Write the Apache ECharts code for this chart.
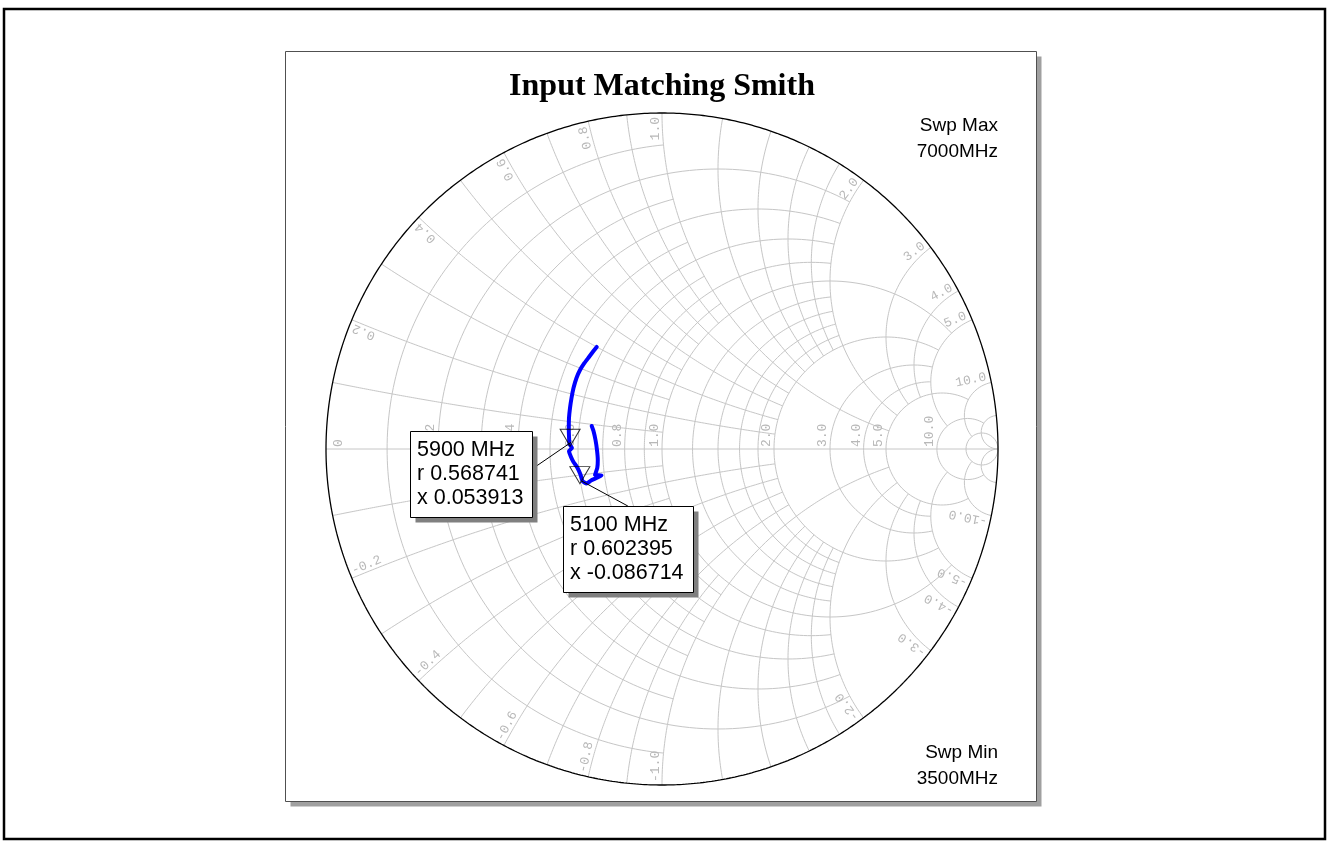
<!DOCTYPE html>
<html>
<head>
<meta charset="utf-8">
<title>Input Matching Smith</title>
<script src="https://cdn.jsdelivr.net/npm/echarts@6/dist/echarts.min.js"></script>
<style>
  html, body { margin: 0; padding: 0; background: #ffffff; }
  #chart { width: 1330px; height: 847px; }
</style>
</head>
<body>
<div id="chart"></div>
<script>
// S11 trace as reflection coefficient (real / imaginary), swept 3500 -> 7000 MHz
const gammaRe = [-0.2092,-0.2039,-0.1979,-0.1935,-0.1911,-0.1926,-0.1994,-0.1801,-0.2113,-0.2247,
                 -0.2366,-0.2426,-0.2530,-0.2634,-0.2708,-0.2768,-0.2679,-0.2753,-0.2768,-0.2774,
                 -0.2768,-0.2738,-0.2693,-0.2634,-0.2545,-0.2440,-0.2307,-0.2173,-0.2039,-0.1943];
const gammaIm = [ 0.0685, 0.0536, 0.0268,-0.0030,-0.0327,-0.0565,-0.0774,-0.0789,-0.0938,-0.1027,
                 -0.0952,-0.0759,-0.0536,-0.0387,-0.0238,-0.0060, 0.0030, 0.0149, 0.0387, 0.0625,
                  0.0923, 0.1220, 0.1518, 0.1815, 0.2113, 0.2351, 0.2560, 0.2738, 0.2917, 0.3036];

// Marker readouts (normalised impedance)
const markerLabels = ['5900 MHz', '5100 MHz'];
const markerR = [0.568741, 0.602395];
const markerX = [0.053913, -0.086714];

// Grid annotation values
const resistanceLabels = [0, 0.2, 0.4, 0.6, 0.8, 1.0, 2.0, 3.0, 4.0, 5.0, 10.0];
const reactanceLabels = [0.2, 0.4, 0.6, 0.8, 1.0, 2.0, 3.0, 4.0, 5.0, 10.0];

// Sweep range captions
const sweepMax = ['Swp Max', '7000MHz'];
const sweepMin = ['Swp Min', '3500MHz'];
const chartTitle = 'Input Matching Smith';

// Grid structure: [value, limit of the crossing family]
const rCircles = [[0.1,1],[0.2,2],[0.3,1],[0.4,2],[0.5,1],[0.6,2],[0.7,1],[0.8,2],[0.9,1],[1.0,5],
                  [1.2,2],[1.4,2],[1.6,2],[1.8,2],[2.0,5],[3.0,5],[4.0,5],[5.0,10],[10,20],[20,Infinity]];
const xArcs = [[0.1,1],[0.2,2],[0.3,1],[0.4,2],[0.5,1],[0.6,2],[0.7,1],[0.8,2],[0.9,1],[1.0,5],
               [1.2,2],[1.4,2],[1.6,2],[1.8,2],[2.0,5],[3.0,5],[4.0,5],[5.0,10],[10,20],[20,Infinity]];

// z -> reflection coefficient
function zToGamma(r, x) {
  if (!isFinite(r) || !isFinite(x)) return [1, 0];
  const d = (r + 1) * (r + 1) + x * x;
  return [(r * r + x * x - 1) / d, 2 * x / d];
}

function rCirclePoints(r, xm) {
  const a = Math.atan(xm / (r + 1));
  const pts = [];
  const n = 160;
  for (let i = 0; i <= n; i++) {
    const psi = -a + 2 * a * i / n;
    const x = Math.abs(Math.abs(psi) - Math.PI / 2) < 1e-9 ? Infinity : (r + 1) * Math.tan(psi);
    pts.push(zToGamma(r, x));
  }
  return pts;
}

function xArcPoints(x, rm) {
  const a0 = Math.atan(x);
  const a1 = isFinite(rm) ? Math.atan(x / (rm + 1)) : 0;
  const pts = [];
  const n = 160;
  for (let i = 0; i <= n; i++) {
    const psi = a0 + (a1 - a0) * i / n;
    if (Math.abs(psi) < 1e-12) { pts.push([1, 0]); continue; }
    const r = Math.max(0, x / Math.tan(psi) - 1);
    pts.push(zToGamma(r, x));
  }
  return pts;
}

const GRID_GRAY = '#c6c6c6';
const series = [];
function addLine(pts, lineStyle, z) {
  series.push({
    type: 'line', data: pts, symbol: 'none', showSymbol: false, silent: true,
    animation: false, clip: false, lineStyle: lineStyle, z: z, emphasis: { disabled: true }
  });
}

rCircles.forEach(([r, xm]) => addLine(rCirclePoints(r, xm), { color: GRID_GRAY, width: 1 }, 2));
xArcs.forEach(([x, rm]) => {
  addLine(xArcPoints(x, rm), { color: GRID_GRAY, width: 1 }, 2);
  addLine(xArcPoints(-x, rm), { color: GRID_GRAY, width: 1 }, 2);
});
addLine([[-1, 0], [1, 0]], { color: GRID_GRAY, width: 1 }, 2);
// outer boundary |Gamma| = 1
const boundary = [];
for (let i = 0; i <= 720; i++) {
  const t = 2 * Math.PI * i / 720;
  boundary.push([Math.cos(t), Math.sin(t)]);
}
addLine(boundary, { color: '#000000', width: 1.3 }, 3);

// measured trace
series.push({
  type: 'line', name: 'S11', data: gammaRe.map((v, i) => [v, gammaIm[i]]),
  symbol: 'none', showSymbol: false, smooth: 0.15, silent: true, animation: false, clip: false,
  lineStyle: { color: '#0000ff', width: 4, cap: 'round', join: 'round' }, z: 5
});

// markers
const markerGamma = markerR.map((r, i) => zToGamma(r, markerX[i]));
series.push({
  type: 'scatter', data: markerGamma, symbol: 'triangle', symbolRotate: 180,
  symbolSize: [20, 17], symbolOffset: [0, 3.5], silent: true, animation: false, clip: false,
  itemStyle: { color: 'rgba(255,255,255,0)', borderColor: '#000000', borderWidth: 1 }, z: 6
});

const chart = echarts.init(document.getElementById('chart'), null, { renderer: 'canvas' });
chart.setOption({
  animation: false,
  backgroundColor: '#ffffff',
  grid: { left: 326, top: 113, width: 672, height: 672 },
  xAxis: { type: 'value', min: -1, max: 1, show: false },
  yAxis: { type: 'value', min: -1, max: 1, show: false },
  series: series
});

// ----- annotations placed through the cartesian mapping -----
const px = p => chart.convertToPixel({ gridIndex: 0 }, p);
const c0 = px([0, 0]);

const LABEL_FONT = '13px "Liberation Mono", "DejaVu Sans Mono", monospace';
const LABEL_GRAY = '#b8b8b8';
const g = [];

function txt(x, y, text, font, fill, align, vAlign, rotation, z) {
  return {
    type: 'text', x: x, y: y, rotation: rotation || 0, z: z || 4, silent: true,
    style: { text: text, font: font, fill: fill, align: align, textAlign: align,
             verticalAlign: vAlign, textVerticalAlign: vAlign }
  };
}

// outer frame and plot panel
g.push({ type: 'rect', z: -20, silent: true, shape: { x: 4, y: 9, width: 1321, height: 830 },
         style: { fill: '#ffffff', stroke: '#000000', lineWidth: 2.5 } });
g.push({ type: 'rect', z: -19, silent: true, shape: { x: 290.5, y: 56.5, width: 751, height: 750 },
         style: { fill: '#a0a0a0', stroke: null } });
g.push({ type: 'rect', z: -18, silent: true, shape: { x: 285.5, y: 51.5, width: 751, height: 750 },
         style: { fill: '#ffffff', stroke: '#505050', lineWidth: 1 } });

// resistance labels along the real axis
resistanceLabels.forEach(r => {
  const p = px(zToGamma(r, 0));
  const ax = r === 0 ? p[0] + 19 : p[0] - 1;
  g.push(txt(ax, c0[1] - 2, r === 0 ? '0' : r.toFixed(1), LABEL_FONT, LABEL_GRAY, 'left', 'bottom', Math.PI / 2));
});

// reactance labels around the rim
reactanceLabels.forEach(v => {
  [v, -v].forEach(x => {
    const gm = zToGamma(0, x);
    const th = Math.atan2(gm[1], gm[0]);
    const e = px(gm);
    const ux = Math.cos(th), uy = -Math.sin(th);
    if (x > 0) {
      g.push(txt(e[0] - ux * 4, e[1] - uy * 4, x.toFixed(1), LABEL_FONT, LABEL_GRAY, 'right', 'bottom', th));
    } else {
      g.push(txt(e[0] - ux * 3, e[1] - uy * 3, x.toFixed(1), LABEL_FONT, LABEL_GRAY, 'left', 'bottom', th + Math.PI));
    }
  });
});

// title and sweep captions
const SANS = '"Liberation Sans", Arial, sans-serif';
g.push(txt(c0[0], 87, chartTitle, 'bold 32px "Liberation Serif", "Times New Roman", serif', '#000000', 'center', 'middle', 0, 10));
g.push(txt(998, 125.8, sweepMax[0], '19px ' + SANS, '#000000', 'right', 'middle', 0, 10));
g.push(txt(998, 151.8, sweepMax[1], '19px ' + SANS, '#000000', 'right', 'middle', 0, 10));
g.push(txt(998, 752.6, sweepMin[0], '19px ' + SANS, '#000000', 'right', 'middle', 0, 10));
g.push(txt(998, 779.0, sweepMin[1], '19px ' + SANS, '#000000', 'right', 'middle', 0, 10));

// marker readout boxes: offset of box corner, leader start and leader end from the marker point
const boxLayout = [
  { dx: -160, dy: -3.3, w: 122, h: 86, ls: [1, 8], le: [-37, 34] },
  { dx: -16.9, dy: 34.4, w: 130, h: 86, ls: [2, 9.5], le: [48, 34.4] }
];
markerGamma.forEach((gm, i) => {
  const m = px(gm);
  const L = boxLayout[i];
  const bx = Math.round(m[0] + L.dx) + 0.5, by = Math.round(m[1] + L.dy) + 0.5;
  g.push({ type: 'line', z: 8, silent: true,
           shape: { x1: m[0] + L.ls[0], y1: m[1] + L.ls[1], x2: m[0] + L.le[0], y2: m[1] + L.le[1] },
           style: { stroke: '#000000', lineWidth: 1 } });
  g.push({ type: 'rect', z: 9, silent: true, shape: { x: bx + 5, y: by + 5, width: L.w, height: L.h },
           style: { fill: '#808080' } });
  g.push({ type: 'rect', z: 10, silent: true, shape: { x: bx, y: by, width: L.w, height: L.h },
           style: { fill: '#ffffff', stroke: '#000000', lineWidth: 1 } });
  const lines = [markerLabels[i], 'r ' + markerR[i].toFixed(6), 'x ' + markerX[i].toFixed(6)];
  lines.forEach((t, k) => {
    g.push(txt(bx + 6.5, by + 19 + 24 * k, t, '21.5px ' + SANS, '#000000', 'left', 'middle', 0, 11));
  });
});

chart.setOption({ graphic: { elements: g } });
</script>
</body>
</html>
